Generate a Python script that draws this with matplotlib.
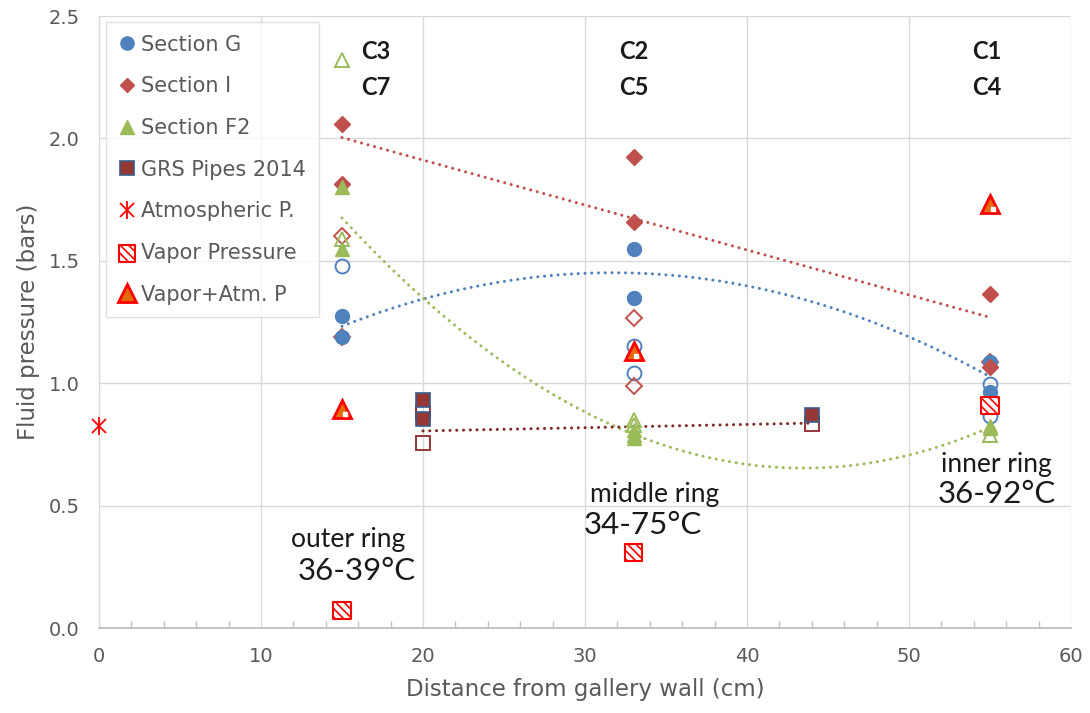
import matplotlib
matplotlib.use("Agg")
import matplotlib.pyplot as plt
import numpy as np
from matplotlib.legend_handler import HandlerTuple
from matplotlib.ticker import MultipleLocator, FormatStrFormatter
from matplotlib.transforms import offset_copy

# ---- measured fluid pressures (bars) vs distance from gallery wall (cm) ----
# filled markers = sensors used for the trend lines, open markers = other sensors
g_x = [15, 15, 33, 33, 55, 55]
g_y = [1.275, 1.19, 1.55, 1.35, 1.088, 0.965]
g_open_x = [15, 33, 33, 55, 55]
g_open_y = [1.48, 1.15, 1.04, 0.995, 0.865]

i_x = [15, 15, 33, 33, 55, 55]
i_y = [2.06, 1.815, 1.925, 1.66, 1.365, 1.065]
i_open_x = [15, 15, 33, 33, 55, 55]
i_open_y = [1.60, 1.19, 1.265, 0.99, 1.085, 0.935]

f2_x = [15, 15, 33, 33, 33, 55, 55]
f2_y = [1.80, 1.55, 0.81, 0.79, 0.775, 0.825, 0.815]
f2_open_x = [15, 15, 33, 33, 55]
f2_open_y = [2.32, 1.59, 0.85, 0.83, 0.79]

grs_x = [20, 20, 44]
grs_y = [0.93, 0.855, 0.87]
grs_open_x = [20, 20, 44]
grs_open_y = [0.88, 0.755, 0.835]
grs_trend_x = [20, 44]
grs_trend_y = [0.805, 0.837]

atm_x = [0]
atm_y = [0.825]

vap_x = [15, 33, 55]
vap_y = [0.072, 0.31, 0.91]

vap_atm_x = [15, 33, 55]
vap_atm_y = [0.893, 1.13, 1.73]

ring_labels = [("outer ring", "36-39°C"), ("middle ring", "34-75°C"), ("inner ring", "36-92°C")]
ring_pos = [(15.4, 0.36, 15.9, 0.233), (34.3, 0.547, 33.6, 0.42), (55.4, 0.666, 55.4, 0.547)]
sensor_labels = [("C3", "C7"), ("C2", "C5"), ("C1", "C4")]
sensor_x = [17.1, 33.0, 54.8]

# ---- styling ----
BLUE = "#4F81BD"
RED = "#C0504D"
GREEN = "#9BBB59"
GRS_FILL = "#953735"
GRS_EDGE = "#385D8A"
GRS_LINE = "#7F2A28"
GRID = "#D9D9D9"
TXT = "#595959"
DARK = "#1A1A1A"

plt.rcParams["font.family"] = ["DejaVu Sans"]
plt.rcParams["hatch.linewidth"] = 1.2

fig = plt.figure(figsize=(10.9, 7.13), dpi=100)
ax = fig.add_axes([99 / 1090, 1 - 628 / 713, 972 / 1090, 612 / 713])

ax.set_xlim(0, 60)
ax.set_ylim(0, 2.5)
ax.xaxis.set_major_locator(MultipleLocator(10))
ax.xaxis.set_minor_locator(MultipleLocator(2))
ax.yaxis.set_major_locator(MultipleLocator(0.5))
ax.yaxis.set_major_formatter(FormatStrFormatter("%.1f"))
ax.grid(True, which="major", color=GRID, lw=1.0, zorder=0)
ax.set_axisbelow(True)
for s in ("top", "right"):
    ax.spines[s].set_visible(False)
ax.spines["left"].set_color(GRID)
ax.spines["bottom"].set_color("#BFBFBF")
ax.spines["bottom"].set_linewidth(1.3)
ax.tick_params(axis="y", length=0, pad=14, labelsize=14, labelcolor=TXT)
ax.tick_params(axis="x", which="major", length=0, pad=14, labelsize=14, labelcolor=TXT)
ax.tick_params(axis="x", which="minor", direction="in", length=5, color="#BFBFBF", width=1)
ax.set_xlabel("Distance from gallery wall (cm)", fontsize=16.5, color=TXT, labelpad=8)
ax.set_ylabel("Fluid pressure (bars)", fontsize=16.5, color=TXT, labelpad=6)

# trend lines
dot = dict(lw=2.2, linestyle=(0, (0.01, 2.2)), dash_capstyle="round", zorder=3)
xs = np.linspace(15, 55, 200)
ax.plot(xs, np.polyval(np.polyfit(g_x, g_y, 2), xs), color=BLUE, **dot)
ax.plot(xs, np.polyval(np.polyfit(i_x, i_y, 1), xs), color=RED, **dot)
ax.plot(xs, np.polyval(np.polyfit(f2_x, f2_y, 2), xs), color=GREEN, **dot)
ax.plot(grs_trend_x, grs_trend_y, color=GRS_LINE, **dot)

# open markers
ax.plot(g_open_x, g_open_y, "o", ms=10, mfc="none", mec=BLUE, mew=1.4, ls="none", zorder=4)
ax.plot(i_open_x, i_open_y, "D", ms=8, mfc="none", mec=RED, mew=1.4, ls="none", zorder=4)
ax.plot(f2_open_x, f2_open_y, "^", ms=10, mfc="none", mec=GREEN, mew=1.4, ls="none", zorder=4)
ax.plot(grs_open_x, grs_open_y, "s", ms=10, mfc="none", mec=GRS_FILL, mew=1.4, ls="none", zorder=4)

# filled markers
h_g, = ax.plot(g_x, g_y, "o", ms=10, color=BLUE, ls="none", zorder=5)
h_i, = ax.plot(i_x, i_y, "D", ms=8, color=RED, ls="none", zorder=5)
h_f2, = ax.plot(f2_x, f2_y, "^", ms=10, color=GREEN, ls="none", zorder=5)
h_grs, = ax.plot(grs_x, grs_y, "s", ms=10, mfc=GRS_FILL, mec=GRS_EDGE, mew=1.2, ls="none",
                 zorder=5)

# atmospheric pressure: X with a vertical bar
h_atm1, = ax.plot(atm_x, atm_y, "x", ms=10, mew=1.3, color="red", ls="none", zorder=6, clip_on=False)
h_atm2, = ax.plot(atm_x, atm_y, "|", ms=13, mew=1.3, color="red", ls="none", zorder=6, clip_on=False)

# vapour pressure: hatched square
h_vap = ax.scatter(vap_x, vap_y, s=150, marker="s", facecolor="white", edgecolor="red",
                   linewidth=1.5, hatch="\\\\\\\\", zorder=6)

# vapour + atmospheric: orange triangle with a small white square
h_va, = ax.plot(vap_atm_x, vap_atm_y, "^", ms=13, mfc="#E46C0A", mec="red", mew=2,
                ls="none", zorder=7)
ax.plot(vap_atm_x, vap_atm_y, "s", ms=3.4, color="white", ls="none", zorder=8,
        transform=offset_copy(ax.transData, fig=fig, x=2.5, y=-4.5, units="dots"))

# annotations
for (top, bot), x in zip(sensor_labels, sensor_x):
    for txt, y in ((top, 2.353), (bot, 2.206)):
        ax.text(x, y, txt, ha="center", va="center", fontsize=17, fontweight="bold",
                family=["Lato", "DejaVu Sans"], color=DARK, zorder=9)
for (l1, l2), (x1, y1, x2, y2) in zip(ring_labels, ring_pos):
    ax.text(x1, y1, l1, ha="center", va="center", fontsize=19,
            family=["Lato", "DejaVu Sans"], color=DARK, zorder=9)
    ax.text(x2, y2, l2, ha="center", va="center", fontsize=22.5,
            family=["Lato", "DejaVu Sans"], color=DARK, zorder=9)

handles = [h_g, h_i, h_f2, h_grs, (h_atm1, h_atm2), h_vap, h_va]
labels = ["Section G", "Section I", "Section F2", "GRS Pipes 2014", "Atmospheric P.",
          "Vapor Pressure", "Vapor+Atm. P"]
leg = ax.legend(handles, labels, loc="upper left", bbox_to_anchor=(0.0072, 0.99),
                borderaxespad=0, fontsize=15, labelspacing=1.04, handlelength=0.8,
                handletextpad=0.3, borderpad=0.6, frameon=True, fancybox=False,
                markerscale=0.95, handler_map={tuple: HandlerTuple(ndivide=1, pad=0)})
leg.get_frame().set_edgecolor(GRID)
leg.get_frame().set_linewidth(1.0)
for t in leg.get_texts():
    t.set_color(TXT)
leg.set_zorder(10)

fig.savefig("out.png", dpi=100)
